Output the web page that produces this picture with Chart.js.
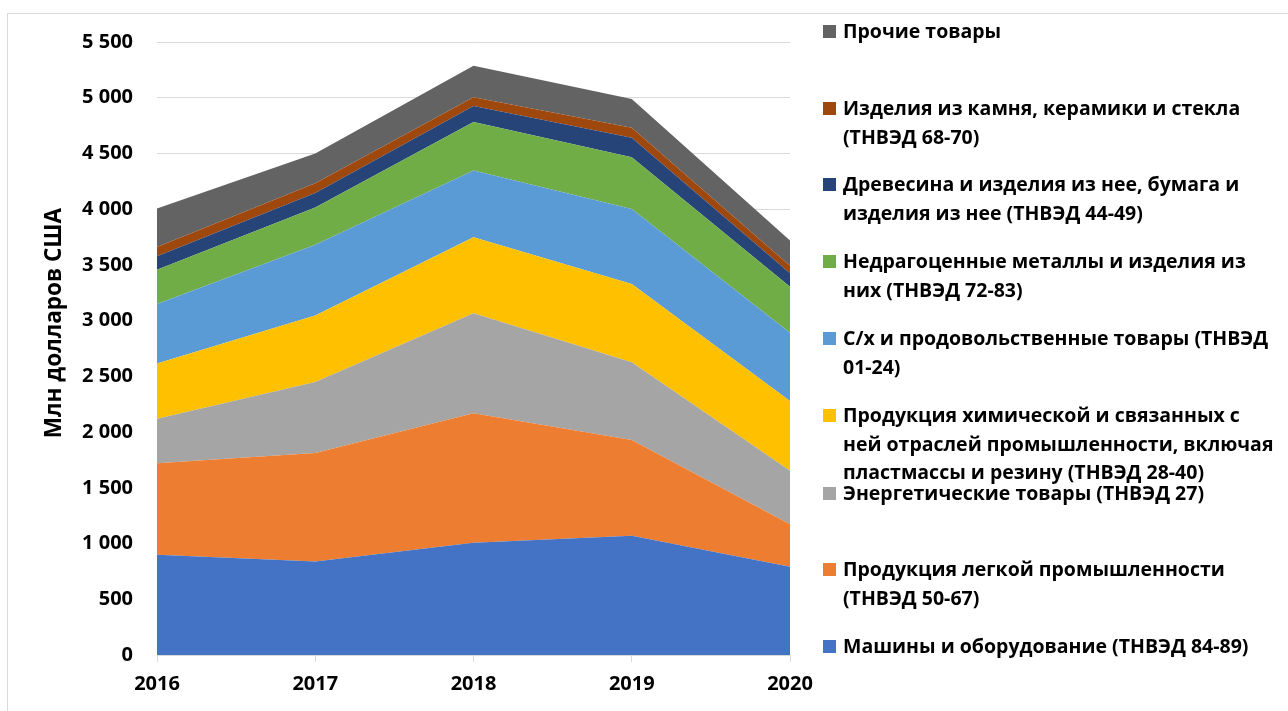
<!DOCTYPE html>
<html>
<head>
<meta charset="utf-8">
<script src="https://cdn.jsdelivr.net/npm/chart.js@4"></script>
<style>
  body { margin: 0; background: #fff; }
  #wrap { position: relative; width: 1288px; height: 711px; overflow: hidden; }
  #frame { position: absolute; left: 7px; top: 13px; width: 1300px; height: 720px; border: 1px solid #d9d9d9; }
  #legend { position: absolute; left: 0; top: 0; font-family: "Open Sans", sans-serif; font-weight: 700; font-size: 19.5px; color: #000; }
  .item { position: absolute; left: 823px; white-space: nowrap; }
  .sw { position: absolute; left: 0; width: 13px; height: 13px; }
  .txt { position: absolute; left: 20px; line-height: 28.7px; }
  #ytitle { position: absolute; left: 52px; top: 323px; transform: translate(-50%, -50%) rotate(-90deg);
            font-family: "Open Sans", sans-serif; font-weight: 700; font-size: 22.5px; white-space: nowrap; color: #000; }
</style>
</head>
<body>
<div id="wrap">
  <div id="frame"></div>
  <canvas id="area-chart"></canvas>
  <div id="ytitle">Млн долларов США</div>
  <div id="legend"></div>
</div>
<script>
var years = ["2016", "2017", "2018", "2019", "2020"];

// series, bottom to top (млн долларов США)
var machines  = [900, 839, 1008, 1071, 792];
var light     = [820, 973, 1161, 858, 381];
var energy    = [400, 637, 897, 697, 481];
var chemical  = [495, 596, 682, 703, 625];
var agri      = [535, 636, 598, 673, 613];
var metals    = [307, 334, 436, 463, 413];
var wood      = [120, 130, 144, 177, 120];
var stone     = [84, 88, 78, 89, 68];
var other     = [344, 267, 284, 258, 225];

var names = [
  "Машины и оборудование (ТНВЭД 84-89)",
  "Продукция легкой промышленности (ТНВЭД 50-67)",
  "Энергетические товары (ТНВЭД 27)",
  "Продукция химической и связанных с ней отраслей промышленности, включая пластмассы и резину (ТНВЭД 28-40)",
  "С/х и продовольственные товары (ТНВЭД 01-24)",
  "Недрагоценные металлы и изделия из них (ТНВЭД 72-83)",
  "Древесина и изделия из нее, бумага и изделия из нее (ТНВЭД 44-49)",
  "Изделия из камня, керамики и стекла (ТНВЭД 68-70)",
  "Прочие товары"
];
// how the legend wraps each name
var legendLines = [
  ["Машины и оборудование (ТНВЭД 84-89)"],
  ["Продукция легкой промышленности", "(ТНВЭД 50-67)"],
  ["Энергетические товары (ТНВЭД 27)"],
  ["Продукция химической и связанных с", "ней отраслей промышленности, включая", "пластмассы и резину (ТНВЭД 28-40)"],
  ["С/х и продовольственные товары (ТНВЭД", "01-24)"],
  ["Недрагоценные металлы и изделия из", "них (ТНВЭД 72-83)"],
  ["Древесина и изделия из нее, бумага и", "изделия из нее (ТНВЭД 44-49)"],
  ["Изделия из камня, керамики и стекла", "(ТНВЭД 68-70)"],
  ["Прочие товары"]
];
var legendTop = [632, 555, 479, 401, 324, 247, 170, 94, 17];

var series = [machines, light, energy, chemical, agri, metals, wood, stone, other];
var colors = ["#4472C4", "#ED7D31", "#A5A5A5", "#FFC000", "#5B9BD5", "#70AD47", "#264478", "#9E480E", "#636363"];

var datasets = series.map(function (d, i) {
  return {
    label: names[i],
    data: d,
    backgroundColor: colors[i],
    borderWidth: 0,
    pointRadius: 0,
    fill: i === 0 ? "origin" : "-1",
    tension: 0
  };
});

var tickFont = { family: "Open Sans", weight: "bold", size: 20 };

new Chart(document.getElementById("area-chart"), {
  type: "line",
  data: { labels: years, datasets: datasets },
  options: {
    responsive: true,
    maintainAspectRatio: false,
    animation: false,
    layout: { padding: { left: 0, top: 42, right: 498, bottom: 0 } },
    plugins: { legend: { display: false }, tooltip: { enabled: false } },
    scales: {
      x: {
        grid: { drawOnChartArea: false, drawTicks: true, tickLength: 7, color: "#d9d9d9" },
        border: { color: "#d9d9d9" },
        ticks: { color: "#000", font: tickFont, padding: 10, maxRotation: 0 },
        afterFit: function (s) { s.height = 56; }
      },
      y: {
        stacked: true,
        min: 0,
        max: 5500,
        grid: { color: "#d9d9d9", drawTicks: false },
        border: { display: false },
        ticks: {
          stepSize: 500,
          color: "#000",
          font: tickFont,
          padding: 24,
          callback: function (v) { return String(v).replace(/\B(?=(\d{3})+(?!\d))/g, " "); }
        },
        afterFit: function (s) { s.width = 157; }
      }
    }
  }
});

var leg = document.getElementById("legend");
legendLines.forEach(function (lines, i) {
  var it = document.createElement("div");
  it.className = "item";
  it.style.top = legendTop[i] + "px";
  var sw = document.createElement("div");
  sw.className = "sw";
  sw.style.background = colors[i];
  sw.style.top = "8px";
  var tx = document.createElement("div");
  tx.className = "txt";
  tx.innerHTML = lines.join("<br>");
  it.appendChild(sw);
  it.appendChild(tx);
  leg.appendChild(it);
});
</script>
</body>
</html>
